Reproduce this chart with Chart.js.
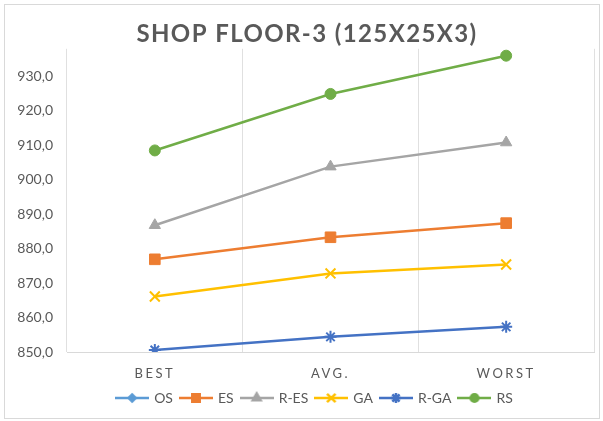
<!DOCTYPE html>
<html>
<head>
<meta charset="utf-8">
<script src="https://cdn.jsdelivr.net/npm/chart.js@4/dist/chart.umd.min.js"></script>
<style>
  html, body { margin: 0; padding: 0; background: #fff; }
  #wrap { position: relative; width: 603px; height: 421px; }
  canvas { display: block; }
  #frame { position: absolute; left: 4px; top: 4px; width: 594px; height: 413px; border: 1px solid #d9d9d9; pointer-events: none; }
</style>
</head>
<body>
<div id="wrap">
  <canvas id="myChart" width="603" height="421"></canvas>
  <div id="frame"></div>
</div>
<script>
const categories = ["BEST", "AVG.", "WORST"];
const seriesNames = ["OS", "ES", "R-ES", "GA", "R-GA", "RS"];
const osValues = [null, null, null]; // no OS points visible in the plot
const esValues = [876.9, 883.3, 887.4];
const resValues = [886.8, 903.8, 910.8];
const gaValues = [866.1, 872.8, 875.4];
const rgaValues = [850.6, 854.4, 857.3];
const rsValues = [908.5, 924.9, 936.0];
const yTicks = [850, 860, 870, 880, 890, 900, 910, 920, 930];

const textColor = "#595959";
const colors = ["#5b9bd5", "#ed7d31", "#a5a5a5", "#ffc000", "#4472c4", "#70ad47"];
const styles = ["rectRot", "rect", "triangle", "crossRot", "star", "circle"];
const radii = [5, 7.5, 6.5, 7, 6, 5.5];
const allValues = [osValues, esValues, resValues, gaValues, rgaValues, rsValues];

// little line+marker pictures for the legend
function legendIcon(i) {
  const c = document.createElement("canvas");
  c.width = 34;
  c.height = 14;
  const ctx = c.getContext("2d");
  ctx.strokeStyle = colors[i];
  ctx.fillStyle = colors[i];
  ctx.lineWidth = 2.5;
  ctx.beginPath();
  ctx.moveTo(0, 7);
  ctx.lineTo(34, 7);
  ctx.stroke();
  const cross = styles[i] === "crossRot" || styles[i] === "star";
  Chart.helpers.drawPoint(ctx, {
    pointStyle: styles[i],
    radius: cross ? radii[i] * 0.85 : radii[i] * 0.7,
    borderWidth: cross ? 1.5 : 1,
    rotation: 0
  }, 17, 7);
  return c;
}

const datasets = seriesNames.map((name, i) => {
  const cross = styles[i] === "crossRot" || styles[i] === "star";
  return {
    label: name,
    data: allValues[i],
    borderColor: colors[i],
    backgroundColor: colors[i],
    borderWidth: 2.5,
    pointStyle: styles[i],
    pointRadius: radii[i],
    pointBorderWidth: cross ? 2 : 1,
    pointBackgroundColor: colors[i],
    pointBorderColor: colors[i],
    tension: 0
  };
});

const shiftPlugin = {
  id: "shift",
  afterLayout(chart) {
    // title and legend sit a little right of the canvas centre
    chart.titleBlock.left += 10;
    chart.titleBlock.right += 10;
    chart.legend.left += 18;
    chart.legend.right += 18;
  },
  beforeDraw(chart) {
    const ctx = chart.ctx;
    const xs = chart.scales.x;
    if (!xs._spaced) {
      const orig = xs.drawLabels.bind(xs);
      xs.drawLabels = function (area) {
        ctx.save();
        ctx.letterSpacing = "2.5px";
        orig(area);
        ctx.restore();
      };
      xs._spaced = true;
    }
    const tb = chart.titleBlock;
    if (!tb._spaced) {
      const origT = tb.draw.bind(tb);
      tb.draw = function () {
        ctx.save();
        ctx.letterSpacing = "1.4px";
        origT();
        ctx.restore();
      };
      tb._spaced = true;
    }
  }
};

const config = {
  type: "line",
  data: { labels: categories, datasets: datasets },
  options: {
    responsive: false,
    animation: false,
    layout: { padding: { left: 0, right: 9, top: 0, bottom: 6 } },
    plugins: {
      title: {
        display: true,
        text: "SHOP FLOOR-3 (125X25X3)",
        color: textColor,
        font: { family: "Lato", size: 24, weight: "bold" },
        padding: { top: 20, bottom: 0 }
      },
      legend: {
        position: "bottom",
        labels: {
          color: textColor,
          font: { family: "Lato", size: 14 },
          usePointStyle: true,
          pointStyleWidth: 30,
          padding: 8,
          generateLabels(chart) {
            return chart.data.datasets.map((ds, i) => ({
              text: ds.label,
              pointStyle: legendIcon(i),
              fontColor: textColor,
              datasetIndex: i,
              hidden: false,
              lineWidth: 0
            }));
          }
        }
      },
      tooltip: { enabled: false }
    },
    scales: {
      x: {
        offset: true,
        grid: { display: true, color: "#e0e0e0", offset: true, drawTicks: false },
        border: { display: true, color: "#d9d9d9" },
        ticks: { color: textColor, font: { family: "Lato", size: 13 }, padding: 14 },
        afterFit(axis) {
          axis.height = 31;
        }
      },
      y: {
        min: 850,
        max: 938,
        grid: { display: false, drawTicks: false },
        border: { display: false },
        afterBuildTicks(axis) {
          axis.ticks = yTicks.map(v => ({ value: v }));
        },
        afterFit(axis) {
          axis.width = 67;
        },
        ticks: {
          color: textColor,
          font: { family: "Lato", size: 14 },
          padding: 14,
          callback: v => v.toFixed(1).replace(".", ",")
        }
      }
    }
  },
  plugins: [shiftPlugin]
};

const myChart = new Chart(document.getElementById("myChart"), config);
</script>
</body>
</html>
